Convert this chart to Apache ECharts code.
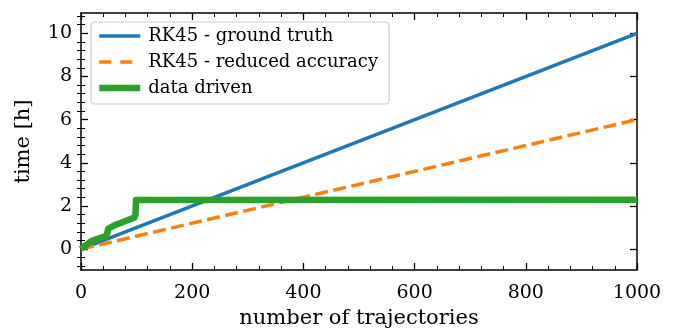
<!DOCTYPE html>
<html>
<head>
<meta charset="utf-8">
<script src="https://cdn.jsdelivr.net/npm/echarts@6/dist/echarts.min.js"></script>
<style>
  html, body { margin: 0; padding: 0; background: #fff; }
  #main { width: 677px; height: 331px; }
</style>
</head>
<body>
<div id="main"></div>
<script>
// data
const trajectories = [0, 1000];
const groundTruth = [0, 10];
const reducedAccuracy = [0, 6];
const dataDrivenX = [0, 5, 10, 15, 20, 30, 40, 45, 47, 49, 52, 60, 70, 80, 90, 96, 98, 99, 101, 1000];
const dataDrivenY = [0, 0.12, 0.2, 0.3, 0.38, 0.47, 0.56, 0.6, 0.72, 0.95, 1.03, 1.1, 1.2, 1.3, 1.4, 1.46, 1.6, 2.27, 2.28, 2.28];
const yTicks = [0, 2, 4, 6, 8, 10];
const yMinorTicks = [-0.8, -0.4, 0.4, 0.8, 1.2, 1.6, 2.4, 2.8, 3.2, 3.6, 4.4, 4.8, 5.2, 5.6, 6.4, 6.8, 7.2, 7.6, 8.4, 8.8, 9.2, 9.6, 10.4, 10.8];

const font = 'DejaVu Serif';
const pairs = (xs, ys) => xs.map((x, i) => [x, ys[i]]);

const chartDom = document.getElementById('main');
const myChart = echarts.init(chartDom, null, { renderer: 'canvas' });

const lineAx = { show: true, lineStyle: { color: '#000', width: 1.5 } };
const xBase = {
    type: 'value', min: 0, max: 1000, interval: 200,
    axisLine: { ...lineAx, onZero: false },
    axisTick: { show: true, inside: true, length: 7, lineStyle: { color: '#000', width: 1.3 } },
    minorTick: { show: true, splitNumber: 5, length: 4, lineStyle: { color: '#000', width: 1 } },
    splitLine: { show: false },
    minorSplitLine: { show: false }
};
const yBase = {
    type: 'value', min: -0.97, max: 10.94,
    axisLine: { ...lineAx, onZero: false },
    splitLine: { show: false }
};

const option = {
    animation: false,
    color: ['#1f77b4', '#ff7f0e', '#2ca02c'],
    grid: { left: 81, right: 40, top: 13, bottom: 61, containLabel: false, outerBoundsMode: 'none' },
    legend: {
        orient: 'vertical',
        left: 91, top: 22,
        padding: [5, 11, 7, 5],
        itemWidth: 41, itemHeight: 14, itemGap: 8,
        backgroundColor: 'rgba(255,255,255,0.85)',
        borderColor: '#cccccc', borderWidth: 1.2, borderRadius: 4,
        itemStyle: { opacity: 0 },
        textStyle: { fontFamily: font, fontSize: 18, color: '#000', lineHeight: 18, padding: [0, 0, 0, 3] },
        data: [
            { name: 'RK45 - ground truth', lineStyle: { width: 3.5 } },
            { name: 'RK45 - reduced accuracy', lineStyle: { width: 3.5, type: [12, 9] } },
            { name: 'data driven', lineStyle: { width: 6.5 } }
        ]
    },
    xAxis: [
        {
            ...xBase, position: 'bottom',
            axisLabel: { fontFamily: font, fontSize: 19, color: '#000', margin: 14, formatter: v => String(v) },
            name: 'number of trajectories', nameLocation: 'middle', nameGap: 38,
            nameTextStyle: { fontFamily: font, fontSize: 21, color: '#000' }
        },
        { ...xBase, position: 'top', axisLabel: { show: false } }
    ],
    yAxis: [
        {
            ...yBase, position: 'left',
            axisTick: { show: true, inside: true, length: 7, customValues: yTicks, lineStyle: { color: '#000', width: 1.3 } },
            axisLabel: { fontFamily: font, fontSize: 19, color: '#000', margin: 9, customValues: yTicks },
            name: 'time [h]', nameLocation: 'middle', nameGap: 47,
            nameTextStyle: { fontFamily: font, fontSize: 21, color: '#000' }
        },
        {
            ...yBase, position: 'left', axisLine: { show: false },
            axisTick: { show: true, inside: true, length: 4, customValues: yMinorTicks, lineStyle: { color: '#000', width: 1 } },
            axisLabel: { show: false }
        },
        {
            ...yBase, position: 'right',
            axisTick: { show: true, inside: true, length: 7, customValues: yTicks, lineStyle: { color: '#000', width: 1.3 } },
            axisLabel: { show: false }
        },
        {
            ...yBase, position: 'right', axisLine: { show: false },
            axisTick: { show: true, inside: true, length: 4, customValues: yMinorTicks, lineStyle: { color: '#000', width: 1 } },
            axisLabel: { show: false }
        }
    ],
    series: [
        {
            name: 'RK45 - ground truth', type: 'line', symbol: 'none',
            lineStyle: { width: 3.5 },
            data: pairs(trajectories, groundTruth)
        },
        {
            name: 'RK45 - reduced accuracy', type: 'line', symbol: 'none',
            lineStyle: { width: 3.5, type: [13, 5.5], cap: 'butt' },
            data: pairs(trajectories, reducedAccuracy)
        },
        {
            name: 'data driven', type: 'line', symbol: 'none',
            lineStyle: { width: 6.5, join: 'round' },
            data: pairs(dataDrivenX, dataDrivenY)
        }
    ]
};

myChart.setOption(option);
</script>
</body>
</html>
